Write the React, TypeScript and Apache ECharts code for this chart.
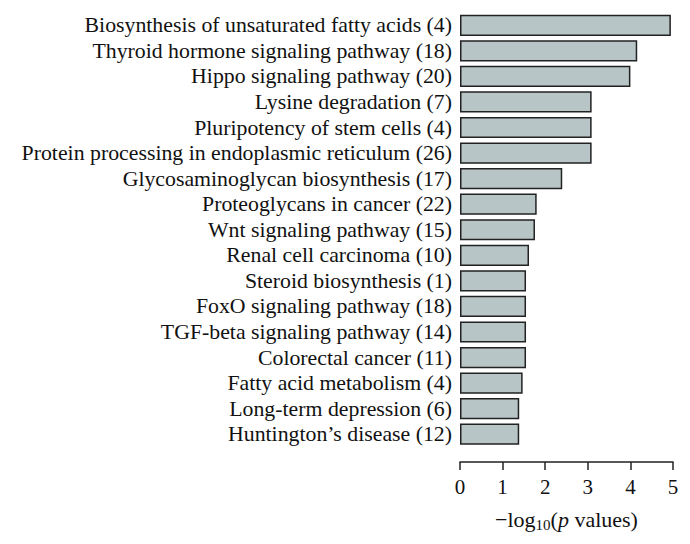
import React, { useEffect, useRef } from "react";
import * as echarts from "echarts";

// pathways (gene count), top to bottom
const pathways = [
  "Biosynthesis of unsaturated fatty acids (4)",
  "Thyroid hormone signaling pathway (18)",
  "Hippo signaling pathway (20)",
  "Lysine degradation (7)",
  "Pluripotency of stem cells (4)",
  "Protein processing in endoplasmic reticulum (26)",
  "Glycosaminoglycan biosynthesis (17)",
  "Proteoglycans in cancer (22)",
  "Wnt signaling pathway (15)",
  "Renal cell carcinoma (10)",
  "Steroid biosynthesis (1)",
  "FoxO signaling pathway (18)",
  "TGF-beta signaling pathway (14)",
  "Colorectal cancer (11)",
  "Fatty acid metabolism (4)",
  "Long-term depression (6)",
  "Huntington\u2019s disease (12)",
];

// -log10(p)
const logP = [
  4.95, 4.16, 4.0, 3.09, 3.09, 3.09, 2.4, 1.8, 1.76, 1.62, 1.55, 1.55, 1.55,
  1.55, 1.47, 1.39, 1.39,
];

const FONT = "'Liberation Serif', 'DejaVu Serif', serif";

const App: React.FC = () => {
  const ref = useRef<HTMLDivElement>(null);

  useEffect(() => {
    document.body.style.margin = "0";
    if (!ref.current) return;
    const chart = echarts.init(ref.current, undefined, { renderer: "svg" });

    chart.setOption({
      animation: false,
      grid: { left: 460, right: 17, top: 12.5, bottom: 97 },
      xAxis: {
        type: "value",
        min: 0,
        max: 5,
        interval: 1,
        offset: 15,
        splitLine: { show: false },
        axisLine: { show: true, lineStyle: { color: "#222", width: 1.5 } },
        axisTick: { show: true, length: 8, lineStyle: { color: "#222", width: 1.5 } },
        axisLabel: { color: "#111", fontFamily: FONT, fontSize: 21, margin: 14 },
        name: "\u2212log{sub|10}({it|p} values)",
        nameLocation: "middle",
        nameGap: 45,
        nameTextStyle: {
          color: "#111",
          fontFamily: FONT,
          fontSize: 22,
          rich: {
            sub: { fontFamily: FONT, fontSize: 15, color: "#111", padding: [10, 0, 0, 0] },
            it: { fontFamily: FONT, fontSize: 22, fontStyle: "italic", color: "#111" },
          },
        },
      },
      yAxis: {
        type: "category",
        inverse: true,
        data: pathways,
        axisLine: { show: false },
        axisTick: { show: false },
        axisLabel: {
          color: "#111",
          fontFamily: FONT,
          fontSize: 21.8,
          margin: 8,
          interval: 0,
        },
      },
      series: [
        {
          type: "bar",
          data: logP,
          barCategoryGap: "17%",
          itemStyle: { color: "#b8c5c6", borderColor: "#222", borderWidth: 1.5 },
        },
      ],
    });

    return () => chart.dispose();
  }, []);

  return <div ref={ref} style={{ width: 690, height: 544 }} />;
};

export default App;
